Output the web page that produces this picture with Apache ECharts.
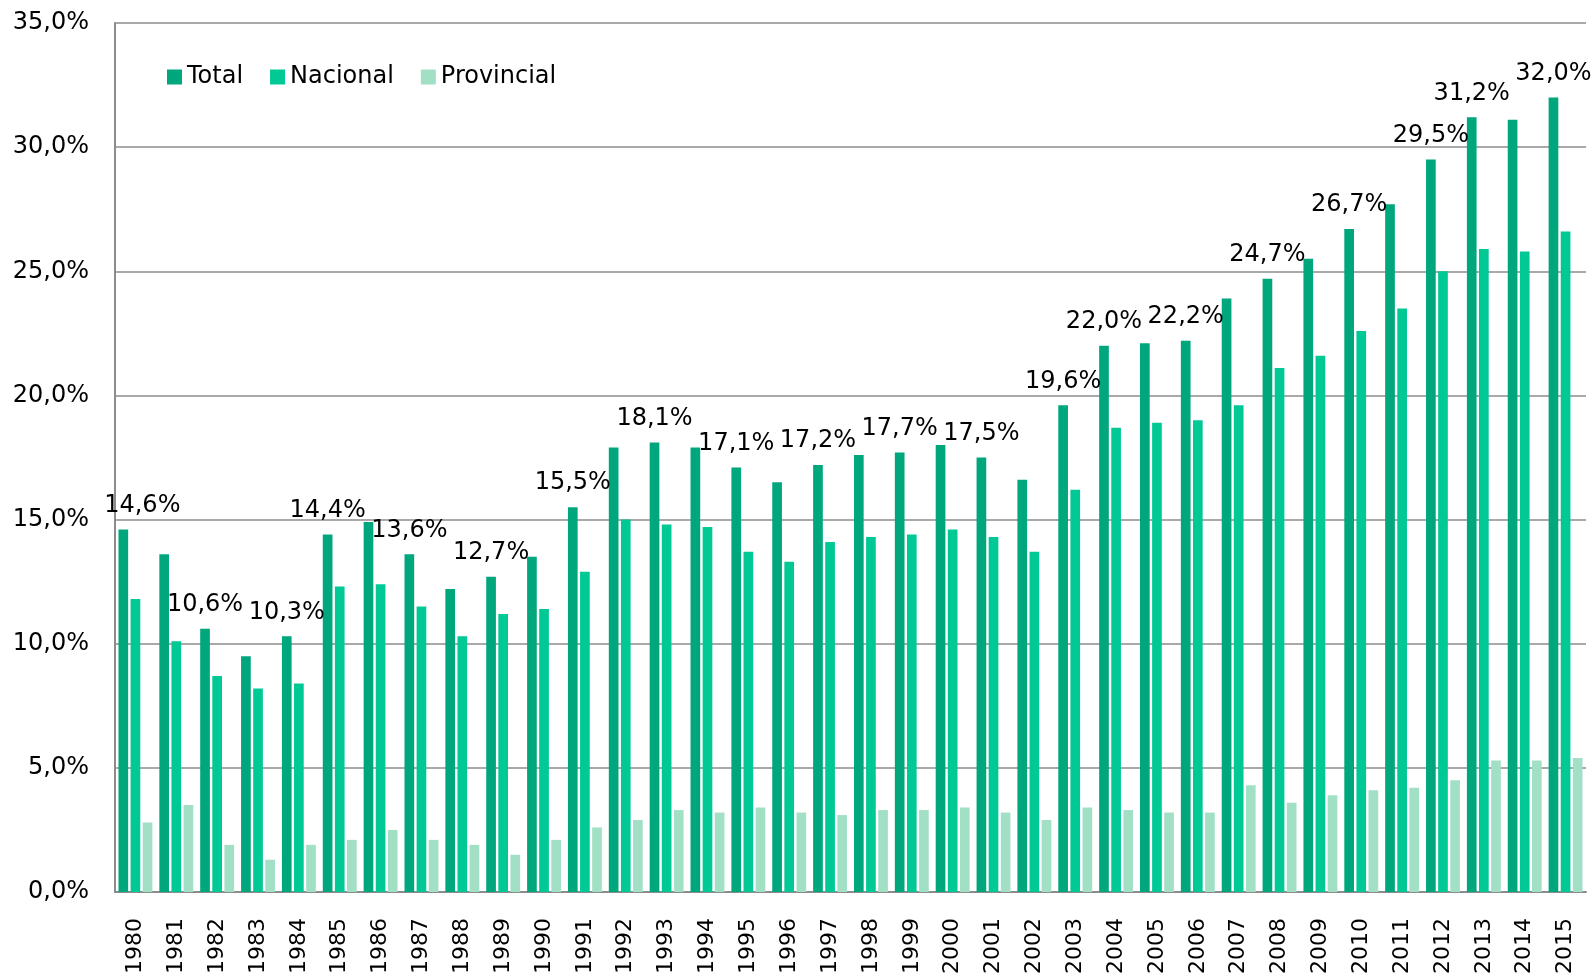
<!DOCTYPE html>
<head>
    <meta charset="utf-8">
    <title>ECharts</title>
</head>
<body style="margin:0">
    <div id="chart" style="width:1594px;height:977px"></div>
    <script src="https://cdn.jsdelivr.net/npm/echarts@6/dist/echarts.min.js"></script>
    <script>
        var anos = ['1980', '1981', '1982', '1983', '1984', '1985', '1986', '1987', '1988', '1989',
            '1990', '1991', '1992', '1993', '1994', '1995', '1996', '1997', '1998', '1999',
            '2000', '2001', '2002', '2003', '2004', '2005', '2006', '2007', '2008', '2009',
            '2010', '2011', '2012', '2013', '2014', '2015'];
        var total = [14.6, 13.6, 10.6, 9.5, 10.3, 14.4, 14.9, 13.6, 12.2, 12.7,
            13.5, 15.5, 17.9, 18.1, 17.9, 17.1, 16.5, 17.2, 17.6, 17.7,
            18.0, 17.5, 16.6, 19.6, 22.0, 22.1, 22.2, 23.9, 24.7, 25.5,
            26.7, 27.7, 29.5, 31.2, 31.1, 32.0];
        var nacional = [11.8, 10.1, 8.7, 8.2, 8.4, 12.3, 12.4, 11.5, 10.3, 11.2,
            11.4, 12.9, 15.0, 14.8, 14.7, 13.7, 13.3, 14.1, 14.3, 14.4,
            14.6, 14.3, 13.7, 16.2, 18.7, 18.9, 19.0, 19.6, 21.1, 21.6,
            22.6, 23.5, 25.0, 25.9, 25.8, 26.6];
        var provincial = [2.8, 3.5, 1.9, 1.3, 1.9, 2.1, 2.5, 2.1, 1.9, 1.5,
            2.1, 2.6, 2.9, 3.3, 3.2, 3.4, 3.2, 3.1, 3.3, 3.3,
            3.4, 3.2, 2.9, 3.4, 3.3, 3.2, 3.2, 4.3, 3.6, 3.9,
            4.1, 4.2, 4.5, 5.3, 5.3, 5.4];
        // años con etiqueta sobre la barra Total
        var anosEtiqueta = ['1980', '1982', '1984', '1985', '1987', '1989', '1991', '1993', '1995', '1997',
            '1999', '2001', '2003', '2004', '2006', '2008', '2010', '2012', '2013', '2015'];

        function pct(v) {
            return v.toFixed(1).replace('.', ',') + '%';
        }

        var fuente = 'DejaVu Sans';
        var myChart = echarts.init(document.getElementById('chart'));

        var datosTotal = total.map(function (v, i) {
            var d = { value: v };
            if (anosEtiqueta.indexOf(anos[i]) >= 0) {
                d.label = { show: true };
                if (i === 0) d.label.offset = [19, 0];
            }
            return d;
        });

        var option = {
            animation: false,
            textStyle: { fontFamily: fuente, color: '#000' },
            grid: { left: 115, right: 8, top: 23, bottom: 83 },
            legend: {
                left: 162,
                top: 60,
                itemWidth: 15,
                itemHeight: 15,
                itemGap: 27,
                icon: 'rect',
                textStyle: { fontFamily: fuente, fontSize: 24, color: '#000' },
                data: ['Total', 'Nacional', 'Provincial']
            },
            xAxis: {
                type: 'category',
                data: anos,
                axisLine: { lineStyle: { color: '#8c8c8c', width: 2 } },
                axisTick: { show: false },
                axisLabel: { rotate: 90, margin: 26, fontSize: 22, color: '#000', fontFamily: fuente }
            },
            yAxis: {
                type: 'value',
                min: 0,
                max: 35,
                interval: 5,
                axisLine: { show: true, lineStyle: { color: '#8c8c8c', width: 2 } },
                axisTick: { show: false },
                splitLine: { lineStyle: { color: '#8c8c8c', width: 1.5 } },
                axisLabel: {
                    margin: 26, fontSize: 24, color: '#000', fontFamily: fuente,
                    formatter: function (v) { return pct(v); }
                }
            },
            series: [
                {
                    name: 'Total',
                    type: 'bar',
                    data: datosTotal,
                    barGap: '25%',
                    barCategoryGap: '17%',
                    itemStyle: { color: '#00a77d' },
                    label: {
                        show: false,
                        position: 'top',
                        distance: 12,
                        fontSize: 24,
                        color: '#000',
                        fontFamily: fuente,
                        formatter: function (p) { return pct(p.value); }
                    }
                },
                {
                    name: 'Nacional',
                    type: 'bar',
                    data: nacional,
                    barGap: '25%',
                    barCategoryGap: '17%',
                    itemStyle: { color: '#00c995' }
                },
                {
                    name: 'Provincial',
                    type: 'bar',
                    data: provincial,
                    barGap: '25%',
                    barCategoryGap: '17%',
                    itemStyle: { color: '#a2e0c6' }
                }
            ]
        };
        myChart.setOption(option);
    </script>
</body>
